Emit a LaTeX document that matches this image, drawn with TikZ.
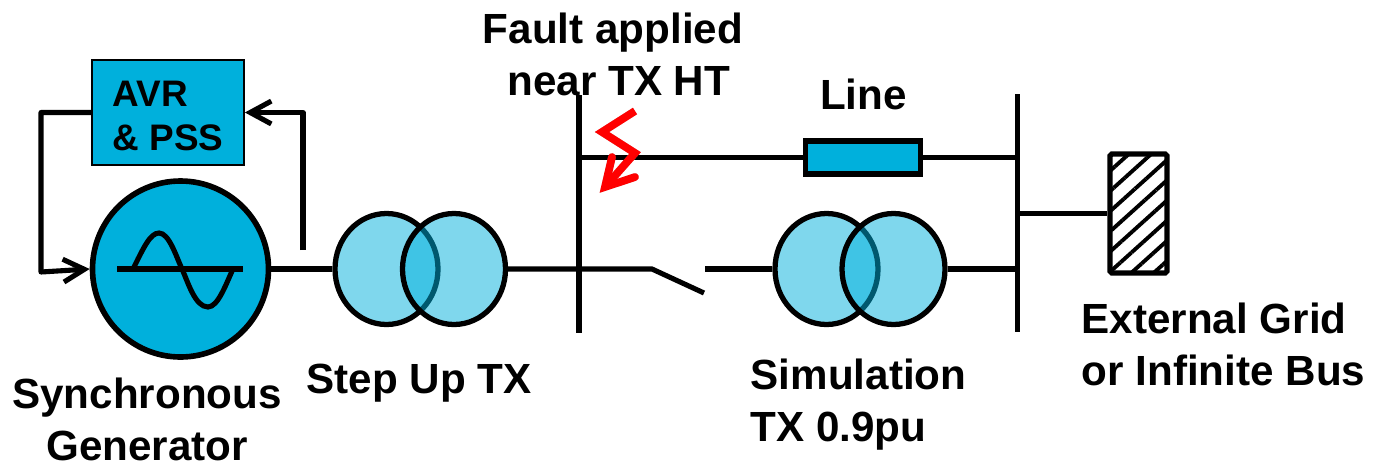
\documentclass[tikz,border=0pt]{standalone}
\usepackage{fontspec}
\setmainfont{Liberation Sans}
\usetikzlibrary{arrows.meta,shapes.geometric,patterns.meta}
\definecolor{plant}{HTML}{00B0DC}
\definecolor{fault}{HTML}{FF0000}
\tikzset{
  wire/.style={line width=1.45pt},
  fbwire/.style={wire,line join=round,-{Straight Barb[length=6pt,width=6.5pt]}},
  txcoil/.style={ellipse,draw,line width=1.5pt,fill=plant,fill opacity=0.5,minimum width=1.03cm,minimum height=1.11cm,inner sep=0pt},
  busbar/.style={fill=black,minimum width=0.055cm,minimum height=2.38cm,inner sep=0pt},
  faultpath/.style={line width=2.2pt},
  faulttip/.style={line width=2.2pt,line cap=round,miter limit=10},
  lbl/.style={font=\fontsize{12}{14.6}\selectfont\bfseries,inner sep=0pt},
}
\begin{document}
\begin{tikzpicture}
  \useasboundingbox (0,0) rectangle (13.74,4.64);

  % generator and exciter
  \node[circle,draw,line width=1.6pt,fill=plant,minimum size=1.76cm,inner sep=0pt] (gen) at (1.805,1.95) {};
  \node[draw,line width=0.5pt,fill=plant,minimum width=1.52cm,minimum height=1.05cm,inner sep=0pt,align=left,font=\fontsize{10.5}{12.5}\selectfont\bfseries] (avr) at (1.68,3.515) {\rule{0pt}{9.2pt}AVR\\\& PSS};
  \draw[wire] (1.17,1.95) -- (2.43,1.95);
  \draw[wire] (1.33,1.95) .. controls (1.43,2.15) and (1.50,2.31) .. (1.59,2.31)
    .. controls (1.69,2.31) and (1.76,2.08) .. (1.82,1.95)
    .. controls (1.88,1.82) and (1.95,1.57) .. (2.08,1.57)
    .. controls (2.18,1.57) and (2.26,1.80) .. (2.33,1.95);

  % feedback
  \coordinate (fbl) at (0.41,3.515);
  \coordinate (fbm) at (0.41,1.92);
  \coordinate (fbr) at (3.03,2.14);
  \draw[fbwire] (avr.west) -- (fbl) -- (fbm) -- (gen.west);
  \draw[fbwire] (fbr) -- (avr.east -| fbr) -- (avr.east);

  % transformers
  \node[txcoil] (txa) at (3.865,1.95) {};
  \node[txcoil] (txb) at (4.54,1.95) {};
  \node[txcoil] (txc) at (8.265,1.95) {};
  \node[txcoil] (txd) at (8.935,1.95) {};

  % busbars
  \node[busbar] (busa) at (5.79,2.505) {};
  \node[busbar] (busb) at (10.175,2.51) {};

  % line
  \node[draw,line width=1.5pt,fill=plant,minimum width=1.15cm,minimum height=0.33cm,inner sep=0pt] (line) at (8.63,3.065) {};
  \draw[wire] (busa |- line) -- (line.west);
  \draw[wire] (line.east) -- (line -| busb);

  % lower path with open switch
  \coordinate (swa) at (6.52,1.95);
  \coordinate (swb) at (7.04,1.71);
  \coordinate (swc) at (7.05,1.95);
  \draw[wire] (gen.east) -- (txa.west);
  \draw[wire] (txb.east) -- (swa) -- (swb);
  \draw[wire] (swc) -- (txc.west);
  \draw[wire] (txd.east) -- (txd.east -| busb);

  % external grid
  \node[draw,line width=1.5pt,rounded corners=0.5pt,preaction={pattern={Lines[angle=42,distance=0.15cm,line width=1.1pt]}},minimum width=0.57cm,minimum height=1.19cm,inner sep=0pt] (grid) at (11.385,2.505) {};
  \draw[wire] (grid.west -| busb) -- (grid.west);

  % fault
  \coordinate (fta) at (6.35,3.53);
  \coordinate (ftb) at (6.02,3.32);
  \coordinate (ftc) at (6.35,3.11);
  \coordinate (ftd) at (6.05,2.77);
  \coordinate (fte) at (6.12,3.07);
  \coordinate (ftf) at (6.35,2.87);
  \begin{scope}[black!35,opacity=0.5,xshift=1.5pt,yshift=-1.5pt]
    \draw[faultpath] (fta) -- (ftb) -- (ftc) -- (ftd);
    \draw[faulttip] (fte) -- (ftd) -- (ftf);
  \end{scope}
  \draw[faultpath,fault] (fta) -- (ftb) -- (ftc) -- (ftd);
  \draw[faulttip,fault] (fte) -- (ftd) -- (ftf);

  % labels
  \node[lbl,align=center,anchor=base] (lblfault) at (6.13,3.69) {Fault applied\\\ near TX HT};
  \node[lbl,anchor=base] (lblline) at (8.635,3.55) {Line};
  \node[lbl,anchor=base] (lbltxa) at (4.19,0.71) {Step Up TX};
  \node[lbl,align=center,anchor=base] (lblgen) at (1.47,0.04) {Synchronous\\Generator};
  \node[lbl,align=left,anchor=base west] (lbltxb) at (7.50,0.23) {Simulation\\TX 0.9pu};
  \node[lbl,align=left,anchor=base west] (lblgrid) at (10.81,0.79) {External Grid\\or Infinite Bus};
\end{tikzpicture}
\end{document}
